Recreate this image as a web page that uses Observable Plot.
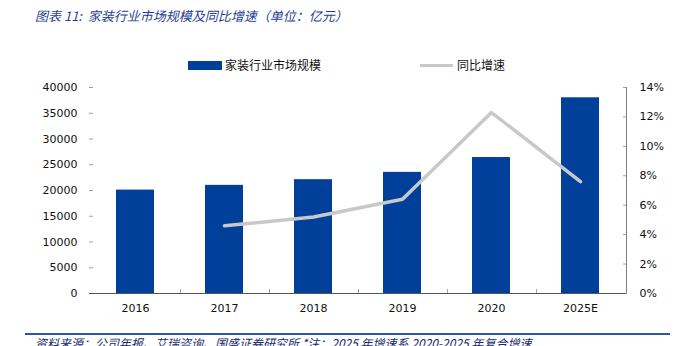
<!DOCTYPE html>
<html><head><meta charset="utf-8">
<script src="https://cdn.jsdelivr.net/npm/d3@7"></script>
<script src="https://cdn.jsdelivr.net/npm/@observablehq/plot@0.6"></script>
<style>
body{margin:0;background:#fff;}
#wrap{position:relative;width:685px;height:346px;overflow:hidden;font-family:"Noto Sans CJK SC",sans-serif;}
#wrap svg{position:absolute;left:0;top:0;}
.title{position:absolute;left:35px;top:7px;font-size:13px;font-style:italic;color:#1f3f95;white-space:nowrap;line-height:18px;}
.src{position:absolute;left:35px;top:333px;font-size:12px;font-style:italic;color:#1a2a6c;white-space:nowrap;line-height:16px;border-top:2px solid #2d55a5;width:635px;margin-left:-10px;padding-left:10px;}
.leg{position:absolute;top:57px;font-size:12px;color:#111;white-space:nowrap;line-height:16px;display:flex;align-items:center;}
.sw{display:inline-block;width:34px;height:9px;background:#00409a;margin-right:3px;}
.ln{display:inline-block;width:33px;height:3px;background:#c8c8c8;margin-right:4px;}
</style></head>
<body>
<div id="wrap">
  <div class="title">图表 11:&nbsp; 家装行业市场规模及同比增速（单位：亿元）</div>
  <div class="leg" style="left:188px;"><span class="sw"></span>家装行业市场规模</div>
  <div class="leg" style="left:420px;"><span class="ln"></span>同比增速</div>
  <div class="src">资料来源：公司年报、艾瑞咨询、国盛证券研究所 *注：2025 年增速系 2020-2025 年复合增速</div>
</div>
<script>
const years = ["2016","2017","2018","2019","2020","2025E"];
const marketSize = [20080, 21000, 22100, 23520, 26400, 38000];
const growthPct = [null, 4.6, 5.2, 6.4, 12.3, 7.6];
const leftTicks = [0,5000,10000,15000,20000,25000,30000,35000,40000];
const rightTicks = [0,2,4,6,8,10,12,14];

const k = 40000 / 14;
const bars = years.map((y,i)=>({year:y, value:marketSize[i]}));
const line = years.map((y,i)=>({year:y, g:growthPct[i]})).filter(d=>d.g!=null);

const plot = Plot.plot({
  width:685, height:346,
  marginLeft:89, marginRight:59, marginTop:87, marginBottom:53,
  style:{fontFamily:"DejaVu Sans, sans-serif", fontSize:"11px", color:"#111", background:"transparent"},
  x:{domain:years, paddingInner:0.57, paddingOuter:0.285},
  y:{domain:[0,40000]},
  marks:[
    Plot.barY(bars,{x:"year", y:"value", fill:"#00409a"}),
    Plot.ruleX([0],{frameAnchor:"left", stroke:"#c0c0c0"}),
    Plot.axisY({anchor:"left", ticks:leftTicks, tickSize:-4, tickPadding:16, stroke:"#a0a0a0", label:null, tickFormat:d=>String(d)}),
    Plot.axisY({anchor:"right", ticks:rightTicks.map(p=>p*k), tickSize:-4, tickPadding:17, stroke:"#a0a0a0", label:null, tickFormat:d=>Math.round(d/k)+"%"}),
    Plot.axisX({tickSize:0, tickPadding:11, label:null}),
    Plot.lineY(line,{x:"year", y:d=>d.g*k, stroke:"#c8c8c8", strokeWidth:3.5}),
    Plot.ruleY([0],{stroke:"#555", strokeWidth:1})
  ]
});
document.getElementById("wrap").prepend(plot);

// right axis vertical line + boundary ticks between categories, from the plot's scales
const xs = plot.scale("x"), ys = plot.scale("y");
const svg = d3.select(plot);
const y0 = ys.apply(0), yTop = ys.apply(40000);
const bw = xs.bandwidth;
const xRight = 685 - 59;
svg.append("line").attr("x1",xRight+0.5).attr("x2",xRight+0.5).attr("y1",yTop).attr("y2",y0).attr("stroke","#808080");
for (let i=0;i<years.length-1;i++){
  const b = (xs.apply(years[i]) + bw + xs.apply(years[i+1]))/2;
  svg.append("line").attr("x1",Math.round(b)+0.5).attr("x2",Math.round(b)+0.5).attr("y1",y0).attr("y2",y0-4).attr("stroke","#a0a0a0");
}
</script>
</body></html>
